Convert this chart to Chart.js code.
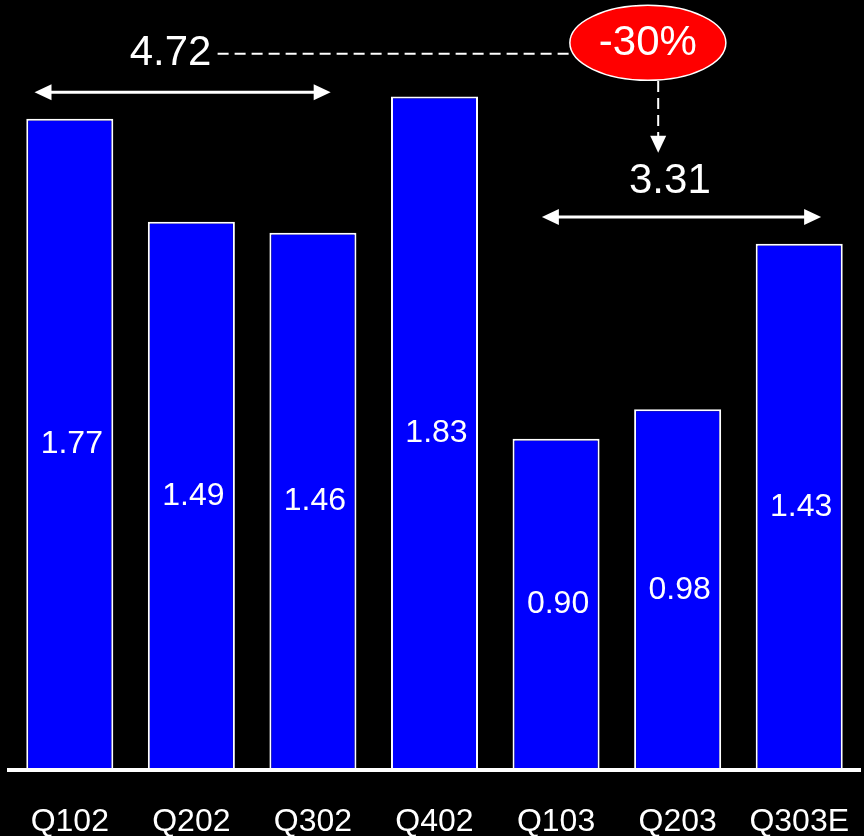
<!DOCTYPE html>
<html>
<head>
<meta charset="utf-8">
<script src="https://cdn.jsdelivr.net/npm/chart.js@4"></script>
<style>
html,body{margin:0;padding:0;background:#000;}
#wrap{width:864px;height:836px;position:relative;}
</style>
</head>
<body>
<div id="wrap"><canvas id="c" width="864" height="836"></canvas></div>
<script>
const categories = ['Q102','Q202','Q302','Q402','Q103','Q203','Q303E'];
const values = [1.77, 1.49, 1.46, 1.83, 0.90, 0.98, 1.43];
const valueLabels = ['1.77','1.49','1.46','1.83','0.90','0.98','1.43'];
const total2002Label = '4.72';
const total2003Label = '3.31';
const changeLabel = '-30%';

const FONT = "'Liberation Sans', Arial, sans-serif";

// annotation geometry in (category index, value) space
const ann = {
  topArrow: {x0: -0.29, x1: 2.146, y: 1.842},
  topText: {x: 0.829, y: 1.948},
  dash: {x0: 1.216, y: 1.946},
  ellipse: {x: 4.755, y: 1.976, rx: 78, ry: 37.5},
  vdash: {x: 4.84, y0: 1.872, y1: 1.677},
  botText: {x: 4.936, y: 1.600},
  botArrow: {x0: 3.883, x1: 6.18, y: 1.503}
};

function arrowHead(ctx, tx, ty, dx, dy) {
  const len = 17, hw = 8;
  const bx = tx - dx * len, by = ty - dy * len;
  ctx.beginPath();
  ctx.moveTo(tx, ty);
  ctx.lineTo(bx - dy * hw, by + dx * hw);
  ctx.lineTo(bx + dy * hw, by - dx * hw);
  ctx.closePath();
  ctx.fill();
}

const overlay = {
  id: 'overlay',
  afterDatasetsDraw(chart) {
    const ctx = chart.ctx;
    const xs = chart.scales.x, ys = chart.scales.y;
    const X = v => xs.getPixelForValue(v);
    const Y = v => ys.getPixelForValue(v);
    ctx.save();
    // bar value labels
    const meta = chart.getDatasetMeta(0);
    ctx.fillStyle = '#fff';
    ctx.font = '32px ' + FONT;
    ctx.textAlign = 'center';
    ctx.textBaseline = 'middle';
    meta.data.forEach((bar, i) => {
      const cy = (bar.y + bar.base) / 2;
      ctx.fillText(valueLabels[i], bar.x + 2, cy);
    });

    ctx.strokeStyle = '#fff';
    ctx.fillStyle = '#fff';
    // top double arrow
    let a = ann.topArrow;
    ctx.lineWidth = 3;
    ctx.beginPath();
    ctx.moveTo(X(a.x0) + 10, Y(a.y));
    ctx.lineTo(X(a.x1) - 10, Y(a.y));
    ctx.stroke();
    arrowHead(ctx, X(a.x0), Y(a.y), -1, 0);
    arrowHead(ctx, X(a.x1), Y(a.y), 1, 0);
    // bottom double arrow
    a = ann.botArrow;
    ctx.beginPath();
    ctx.moveTo(X(a.x0) + 10, Y(a.y));
    ctx.lineTo(X(a.x1) - 10, Y(a.y));
    ctx.stroke();
    arrowHead(ctx, X(a.x0), Y(a.y), -1, 0);
    arrowHead(ctx, X(a.x1), Y(a.y), 1, 0);

    // dashed horizontal
    const e = ann.ellipse;
    ctx.lineWidth = 2;
    ctx.setLineDash([11, 6]);
    ctx.beginPath();
    ctx.moveTo(X(ann.dash.x0), Y(ann.dash.y));
    ctx.lineTo(X(e.x) - e.rx + 6, Y(ann.dash.y));
    ctx.stroke();
    // dashed vertical
    const vd = ann.vdash;
    ctx.beginPath();
    ctx.moveTo(X(vd.x), Y(vd.y0));
    ctx.lineTo(X(vd.x), Y(vd.y1) - 14);
    ctx.stroke();
    ctx.setLineDash([]);
    arrowHead(ctx, X(vd.x), Y(vd.y1), 0, 1);

    // ellipse
    ctx.beginPath();
    ctx.ellipse(X(e.x), Y(e.y), e.rx, e.ry, 0, 0, Math.PI * 2);
    ctx.fillStyle = '#ff0000';
    ctx.fill();
    ctx.lineWidth = 1.5;
    ctx.strokeStyle = '#fff';
    ctx.stroke();

    // texts
    ctx.fillStyle = '#fff';
    ctx.font = '42px ' + FONT;
    ctx.fillText(total2002Label, X(ann.topText.x), Y(ann.topText.y));
    ctx.fillText(total2003Label, X(ann.botText.x), Y(ann.botText.y));
    ctx.fillText(changeLabel, X(e.x), Y(e.y) + 1);
    ctx.restore();
  }
};

new Chart(document.getElementById('c'), {
  type: 'bar',
  data: {
    labels: categories,
    datasets: [{
      data: values,
      backgroundColor: '#0000ff',
      borderColor: '#ffffff',
      borderWidth: 2,
      barPercentage: 0.716,
      categoryPercentage: 1.0
    }]
  },
  options: {
    responsive: false,
    animation: false,
    devicePixelRatio: 1,
    layout: {padding: {left: 9, right: 4, top: 0, bottom: 0}},
    plugins: {legend: {display: false}, tooltip: {enabled: false}},
    scales: {
      x: {
        grid: {display: false, drawTicks: false},
        border: {display: true, color: '#fff', width: 4, z: 1},
        ticks: {color: '#fff', font: {family: FONT, size: 32}, padding: 33, maxRotation: 0, autoSkip: false},
        afterFit(scale) {
          scale.paddingLeft = 0;
          scale.paddingRight = 0;
          scale.height = 66;
        }
      },
      y: {
        display: false,
        min: 0,
        max: 2.0924
      }
    }
  },
  plugins: [overlay]
});
</script>
</body>
</html>
